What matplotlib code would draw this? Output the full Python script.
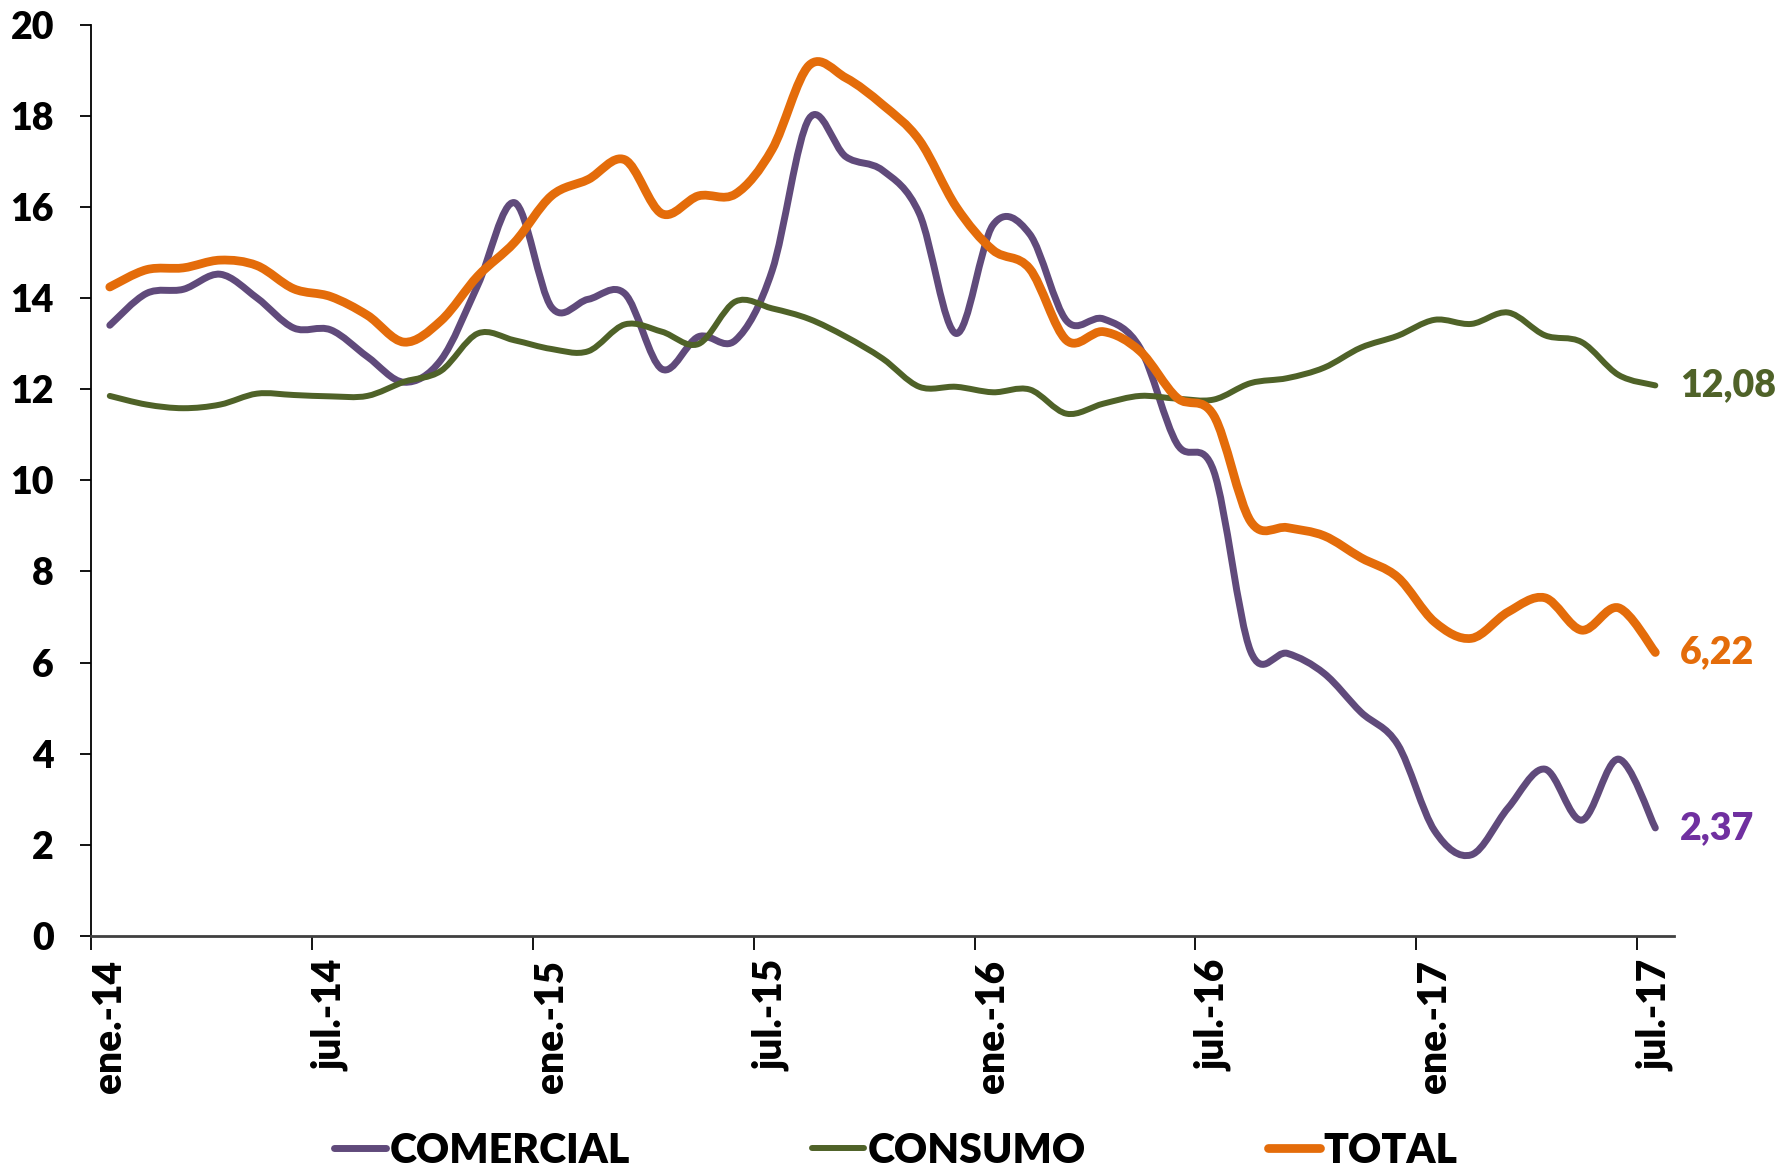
import numpy as np
import matplotlib
matplotlib.use('Agg')
import matplotlib.pyplot as plt
from matplotlib.path import Path
from matplotlib.patches import PathPatch
from matplotlib.lines import Line2D

# monthly values, ene-14 .. jul-17
comercial = [13.40, 14.10, 14.19, 14.52, 14.00, 13.34, 13.30, 12.71, 12.15, 12.64,
             14.28, 16.09, 13.80, 13.97, 14.09, 12.44, 13.15, 13.07, 14.60, 17.93,
             17.10, 16.80, 15.85, 13.22, 15.60, 15.40, 13.50, 13.54, 12.90, 10.80,
             10.20, 6.25, 6.20, 5.76, 4.91, 4.20, 2.31, 1.78, 2.81, 3.66,
             2.54, 3.88, 2.37]
consumo = [11.85, 11.66, 11.58, 11.66, 11.90, 11.87, 11.84, 11.85, 12.16, 12.40,
           13.22, 13.07, 12.88, 12.83, 13.42, 13.26, 12.99, 13.92, 13.77, 13.54,
           13.15, 12.67, 12.05, 12.05, 11.93, 11.99, 11.46, 11.68, 11.85, 11.79,
           11.77, 12.13, 12.24, 12.47, 12.91, 13.17, 13.52, 13.43, 13.68, 13.18,
           13.03, 12.31, 12.08]
total = [14.24, 14.62, 14.66, 14.83, 14.71, 14.20, 14.03, 13.62, 13.03, 13.50,
         14.48, 15.22, 16.24, 16.60, 17.03, 15.85, 16.24, 16.28, 17.26, 19.10,
         18.83, 18.24, 17.46, 16.00, 15.05, 14.64, 13.07, 13.26, 12.83, 11.81,
         11.42, 9.10, 8.96, 8.78, 8.30, 7.87, 6.89, 6.53, 7.11, 7.42,
         6.71, 7.20, 6.22]
tick_labels = ['ene.-14', 'jul.-14', 'ene.-15', 'jul.-15',
               'ene.-16', 'jul.-16', 'ene.-17', 'jul.-17']
end_labels = ['2,37', '12,08', '6,22']

FONT = 'Lato'
WEIGHT = 'heavy'


def smooth_path(y):
    # excel-like smoothed line: cubic bezier through every point
    pts = np.column_stack([np.arange(len(y)), y]).astype(float)
    verts = [pts[0]]
    codes = [Path.MOVETO]
    n = len(pts)
    for i in range(n - 1):
        p0 = pts[max(i - 1, 0)]
        p1 = pts[i]
        p2 = pts[i + 1]
        p3 = pts[min(i + 2, n - 1)]
        c1 = p1 + (p2 - p0) / 6.0
        c2 = p2 - (p3 - p1) / 6.0
        verts += [c1, c2, p2]
        codes += [Path.CURVE4] * 3
    return Path(verts, codes)


def main():
    fig = plt.figure(figsize=(17.92, 11.67), dpi=100)
    ax = fig.add_axes([0.051, 0.198, 0.883, 0.781])

    series = [('COMERCIAL', comercial, '#604A7B', 5.0, '#7030A0'),
              ('CONSUMO', consumo, '#4F6228', 4.3, '#4F6228'),
              ('TOTAL', total, '#E46C0A', 6.3, '#E46C0A')]
    handles = []
    for (name, vals, color, lw, lab_color), lab in zip(series, end_labels):
        patch = PathPatch(smooth_path(vals), fill=False, edgecolor=color, lw=lw,
                          capstyle='round', joinstyle='round')
        ax.add_patch(patch)
        handles.append(Line2D([], [], color=color, lw=lw, solid_capstyle='round'))
        ax.annotate(lab, xy=(len(vals) - 1, vals[-1]), xytext=(18, 0),
                    textcoords='offset points', va='center', ha='left',
                    fontsize=27, fontweight=WEIGHT, color=lab_color,
                    family=FONT, annotation_clip=False)

    n = len(total)
    ax.set_xlim(-0.5, n - 0.5)
    ax.set_ylim(0, 20)
    ax.set_yticks(range(0, 21, 2))
    ax.set_xticks(range(0, n, 6))
    ax.set_xticklabels(tick_labels, rotation=90, va='top', ha='center')
    ax.set_xticks(np.arange(-0.5, n - 1, 6), minor=True)
    ax.tick_params(axis='x', which='major', length=0, pad=17)
    ax.tick_params(axis='x', which='minor', length=10, width=1.3, direction='out')
    ax.tick_params(axis='y', length=8, width=1.3, direction='out', pad=19)
    for lbl in ax.get_xticklabels():
        lbl.set_family(FONT)
        lbl.set_fontweight(WEIGHT)
        lbl.set_fontsize(28)
    for lbl in ax.get_yticklabels():
        lbl.set_family(FONT)
        lbl.set_fontweight(WEIGHT)
        lbl.set_fontsize(27)

    ax.spines['top'].set_visible(False)
    ax.spines['right'].set_visible(False)
    ax.spines['left'].set_linewidth(1.3)
    ax.spines['bottom'].set_linewidth(2.0)
    ax.spines['bottom'].set_color('#404040')

    fig.legend(handles, [s[0] for s in series], loc='center',
               bbox_to_anchor=(0.5, 0.014), ncol=3, frameon=False,
               handlelength=1.25, handletextpad=0.1, columnspacing=4.45,
               prop={'family': FONT, 'weight': WEIGHT, 'size': 29.5})

    fig.savefig('out.png', dpi=100)


if __name__ == '__main__':
    main()
